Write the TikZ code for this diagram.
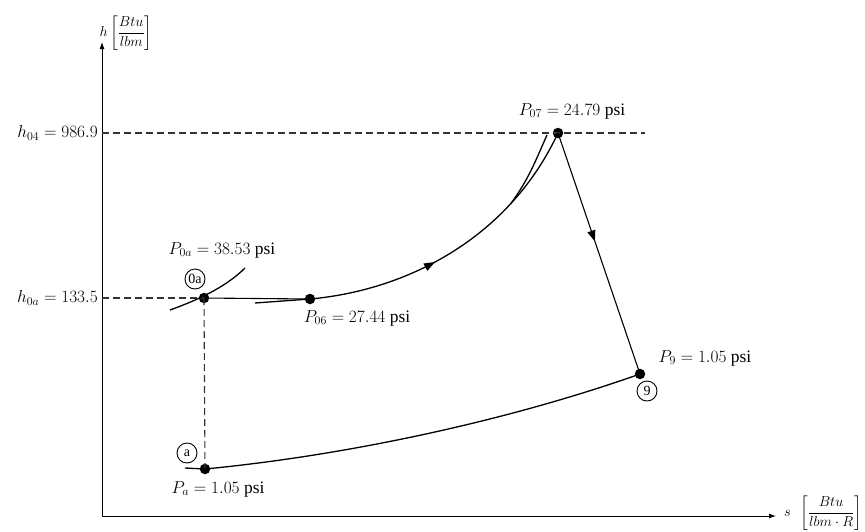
\documentclass[tikz,border=0pt]{standalone}
\usepackage{amsmath}
\usepackage{fontspec}
\setmainfont{Liberation Serif}
\usetikzlibrary{arrows.meta,decorations.markings}
\tikzset{
  dot/.style={circle,fill=black,inner sep=0pt,minimum size=10.5pt},
  axis/.style={line width=0.9pt,-{Latex[length=7pt,width=5pt]}},
  curve/.style={line width=1.3pt},
  guide/.style={line width=1.1pt,gray!40!black,dash pattern=on 7pt off 4pt},
  lbl/.style={font=\fontsize{17.5}{20}\selectfont,inner sep=1pt},
  axlbl/.style={font=\fontsize{14}{16}\selectfont,inner sep=1pt},
  statelbl/.style={circle,draw,line width=0.9pt,inner sep=1.2pt,minimum size=20pt,font=\fontsize{14}{15}\selectfont},
  midarrow/.style={postaction={decorate},decoration={markings,mark=at position #1 with {\arrow{Triangle[length=11pt,width=8pt]}}}}
}
\begin{document}
\begin{tikzpicture}[x=1pt,y=-1pt]
\useasboundingbox (0,0) rectangle (865,531);
% axes
\coordinate (O) at (102,516);
\coordinate (ytop) at (102,42);
\coordinate (xend) at (776,516);
\draw[axis] (O) -- (ytop);
\draw[axis] (O) -- (xend);
\node[axlbl] (hlab) at (126,33) {$h\left[\dfrac{Btu}{lbm}\right]$};
\node[axlbl,anchor=west] (slab) at (783,513) {$s\ \ \left[\dfrac{Btu}{lbm\cdot R}\right]$};
% points
\node[dot] (p0a) at (204,298) {};
\node[dot] (p06) at (310,299) {};
\node[dot] (p07) at (558,133) {};
\node[dot] (p9) at (640,374) {};
\node[dot] (pa) at (205,469) {};
% guide lines
\coordinate (h04ax) at (102,133);
\coordinate (h04end) at (645,133);
\coordinate (h0aax) at (102,298);
\draw[guide] (h04ax) -- (h04end);
\draw[guide] (h0aax) -- (p0a.center);
\draw[guide] (p0a.center) -- (pa.center);
% value labels
\node[lbl,anchor=east] (h04lab) at (99,133) {$h_{04}=986.9$};
\node[lbl,anchor=east] (h0alab) at (99,298) {$h_{0a}=133.5$};
% isobar through 0a
\coordinate (i0s) at (170,310);
\coordinate (i0e) at (245,268);
\draw[curve] (i0s) .. controls (195,301) and (225,288) .. (i0e);
% 0a -> 06
\draw[line width=1.1pt] (p0a.center) -- (p06.center);
% 06 -> 07
\draw[curve,midarrow=0.42] (p06.center) .. controls (410,290) and (510,236) .. (p07.center)
  coordinate[pos=0.74] (split);
% isobar through 06 (shares the process curve up to the split)
\coordinate (i6s) at (255,303);
\coordinate (i6e) at (547,135);
\draw[curve] (i6s) -- (p06.center);
\draw[curve] (split) to[out=54,in=246] (i6e);
% 07 -> 9
\draw[line width=1.1pt,midarrow=0.45] (p07.center) -- (p9.center);
% a -> 9 isobar
\coordinate (ias) at (185,468);
\draw[curve] (ias) -- (pa.center) .. controls (350,455) and (510,420) .. (p9.center);
% pressure labels
\node[lbl] (l07) at (572,111) {$P_{07}=24.79$ psi};
\node[lbl] (l0a) at (222,250) {$P_{0a}=38.53$ psi};
\node[lbl] (l06) at (357,318) {$P_{06}=27.44$ psi};
\node[lbl] (l9) at (705,358) {$P_{9}=1.05$ psi};
\node[lbl] (la) at (218,489) {$P_{a}=1.05$ psi};
% state circles
\node[statelbl] (s0a) at (195,279) {0a};
\node[statelbl] (s9) at (647,391) {9};
\node[statelbl] (sa) at (187,453) {a};
\end{tikzpicture}
\end{document}
